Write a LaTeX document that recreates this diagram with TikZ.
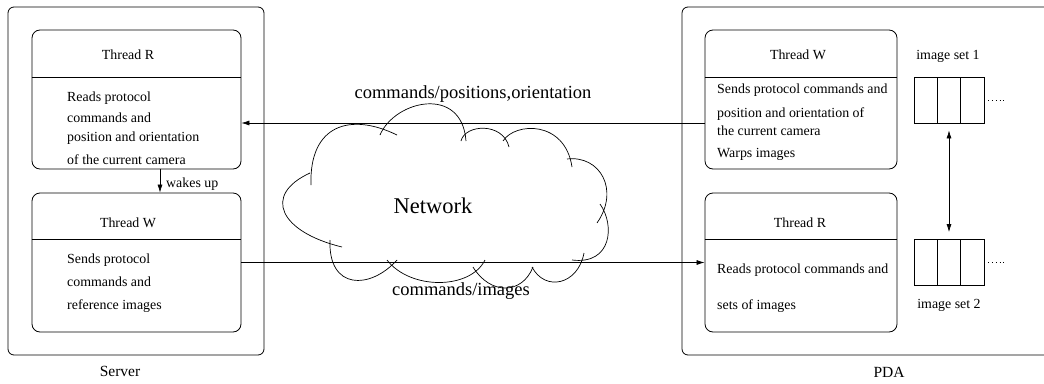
\documentclass[tikz,border=0pt]{standalone}
\usepackage{fontspec}
\setmainfont{Liberation Serif}
\usetikzlibrary{arrows.meta,calc}
\begin{document}
\begin{tikzpicture}[x=1pt,y=-1pt,
  outerbox/.style={draw, rounded corners=6pt, line width=0.8pt},
  threadbox/.style={draw, rounded corners=8pt, line width=0.8pt, minimum height=139pt, inner sep=0pt},
  txt/.style={font=\fontsize{13.9}{16}\selectfont, anchor=base west, inner sep=0pt},
  ttl/.style={font=\fontsize{13.9}{16}\selectfont, anchor=base, inner sep=0pt},
  biglbl/.style={font=\fontsize{18.5}{22}\selectfont, inner sep=0pt},
  sidelbl/.style={font=\fontsize{15.5}{18}\selectfont, inner sep=0pt},
  arr/.style={-{Latex[length=8pt,width=5pt]}, line width=0.7pt},
  darr/.style={{Latex[length=8pt,width=5pt]}-{Latex[length=8pt,width=5pt]}, line width=0.7pt},
  cell/.style={draw, line width=0.8pt, minimum width=23.3pt, minimum height=46pt, inner sep=0pt},
  cloudline/.style={line width=0.7pt}
]
\useasboundingbox (0,0) rectangle (1044,383);
\clip (0,0) rectangle (1044,383);
\fill[white] (0,0) rectangle (1044,383);

% ---------------- Server ----------------
\node[outerbox, minimum width=256pt, minimum height=348pt] (server) at (136,181) {};
\node[sidelbl] (serverlbl) at (120,371) {Server};

\node[threadbox, minimum width=209pt] (srvR) at (136.5,99.5) {};
\draw[line width=0.8pt] (srvR.west |- 0,77) -- (srvR.east |- 0,77);
\node[ttl] (srvRt) at (128,59.5) {Thread R};
\node[txt] (srvR1) at (67,101.5) {Reads protocol};
\node[txt] (srvR2) at (67,122.5) {commands and};
\node[txt] (srvR3) at (67,141.5) {position and orientation};
\node[txt] (srvR4) at (67,164.5) {of the current camera};

\node[threadbox, minimum width=209pt] (srvW) at (136.5,262.5) {};
\draw[line width=0.8pt] (srvW.west |- 0,239) -- (srvW.east |- 0,239);
\node[ttl] (srvWt) at (128,227.5) {Thread W};
\node[txt] (srvW1) at (67,263.5) {Sends protocol};
\node[txt] (srvW2) at (67,286.5) {commands and};
\node[txt] (srvW3) at (67,309.5) {reference images};

\coordinate (wk) at (160,0);
\draw[arr] (srvR.south -| wk) -- (srvW.north -| wk);
\node[txt] (wakes) at (166,187) {wakes up};

% ---------------- PDA ----------------
\draw[line width=0.8pt, rounded corners=6pt] (682,7) rectangle (1060,355);
\node[sidelbl] (pdalbl) at (889,372) {PDA};

\node[threadbox, minimum width=192pt] (pdaW) at (801,99.5) {};
\draw[line width=0.8pt] (pdaW.west |- 0,77) -- (pdaW.east |- 0,77);
\node[ttl] (pdaWt) at (798,59.5) {Thread W};
\node[txt] (pdaW1) at (717,93.5) {Sends protocol commands and};
\node[txt] (pdaW2) at (717,117.5) {position and orientation of};
\node[txt] (pdaW3) at (717,135.5) {the current camera};
\node[txt] (pdaW4) at (717,157.5) {Warps images};

\node[threadbox, minimum width=192pt] (pdaR) at (801,262.5) {};
\draw[line width=0.8pt] (pdaR.west |- 0,239) -- (pdaR.east |- 0,239);
\node[ttl] (pdaRt) at (800,227.5) {Thread R};
\node[txt] (pdaR1) at (717,273.5) {Reads protocol commands and};
\node[txt] (pdaR2) at (717,309.5) {sets of images};

% image sets
\node[ttl] (set1lbl) at (948,59.5) {image set 1};
\node[cell] (a1) at (925.7,100) {};
\node[cell] (a2) at (949,100) {};
\node[cell] (a3) at (972.3,100) {};
\coordinate (d1) at (1006,100);
\draw[line width=0.6pt, dash pattern=on 0.8pt off 3pt] (a3.east) -- (d1);

\node[cell] (b1) at (925.7,262.5) {};
\node[cell] (b2) at (949,262.5) {};
\node[cell] (b3) at (972.3,262.5) {};
\coordinate (d2) at (1006,262.5);
\draw[line width=0.6pt, dash pattern=on 0.8pt off 3pt] (b3.east) -- (d2);
\node[ttl] (set2lbl) at (949,308.5) {image set 2};

\draw[darr, shorten <=7pt, shorten >=7pt] (a2.south) -- (b2.north);

% ---------------- Network ----------------
\draw[cloudline] (311,185) .. controls (309,125) and (350,112) .. (397,135);
\draw[cloudline] (380,135) .. controls (395,100) and (462,85) .. (466,141);
\draw[cloudline] (461,141) .. controls (465,124) and (503,122) .. (509,147);
\draw[cloudline] (503,141) .. controls (515,122) and (565,120) .. (572,167);
\draw[cloudline] (567,159) .. controls (600,155) and (620,190) .. (597,223);
\draw[cloudline] (600,204) .. controls (615,225) and (612,265) .. (572,260);
\draw[cloudline] (584,253) .. controls (578,285) and (545,292) .. (532,267);
\draw[cloudline] (533,267) .. controls (522,295) and (490,295) .. (473,267);
\draw[cloudline] (485,260) .. controls (470,290) and (410,290) .. (387,260);
\draw[cloudline] (397,260) .. controls (370,290) and (328,290) .. (330,240);
\draw[cloudline] (342,247) .. controls (280,232) and (262,195) .. (310,173);
\node[font=\fontsize{22.5}{26}\selectfont, inner sep=0pt] (net) at (433,206) {Network};

% ---------------- connectors ----------------
\draw[arr] ($(pdaW.west)+(0,23.5)$) -- ($(srvR.east)+(0,23.5)$);
\node[biglbl] (toplbl) at (473,94) {commands/positions,orientation};
\draw[arr] (srvW.east) -- (pdaR.west);
\node[biglbl] (botlbl) at (461,291) {commands/images};
\end{tikzpicture}
\end{document}
